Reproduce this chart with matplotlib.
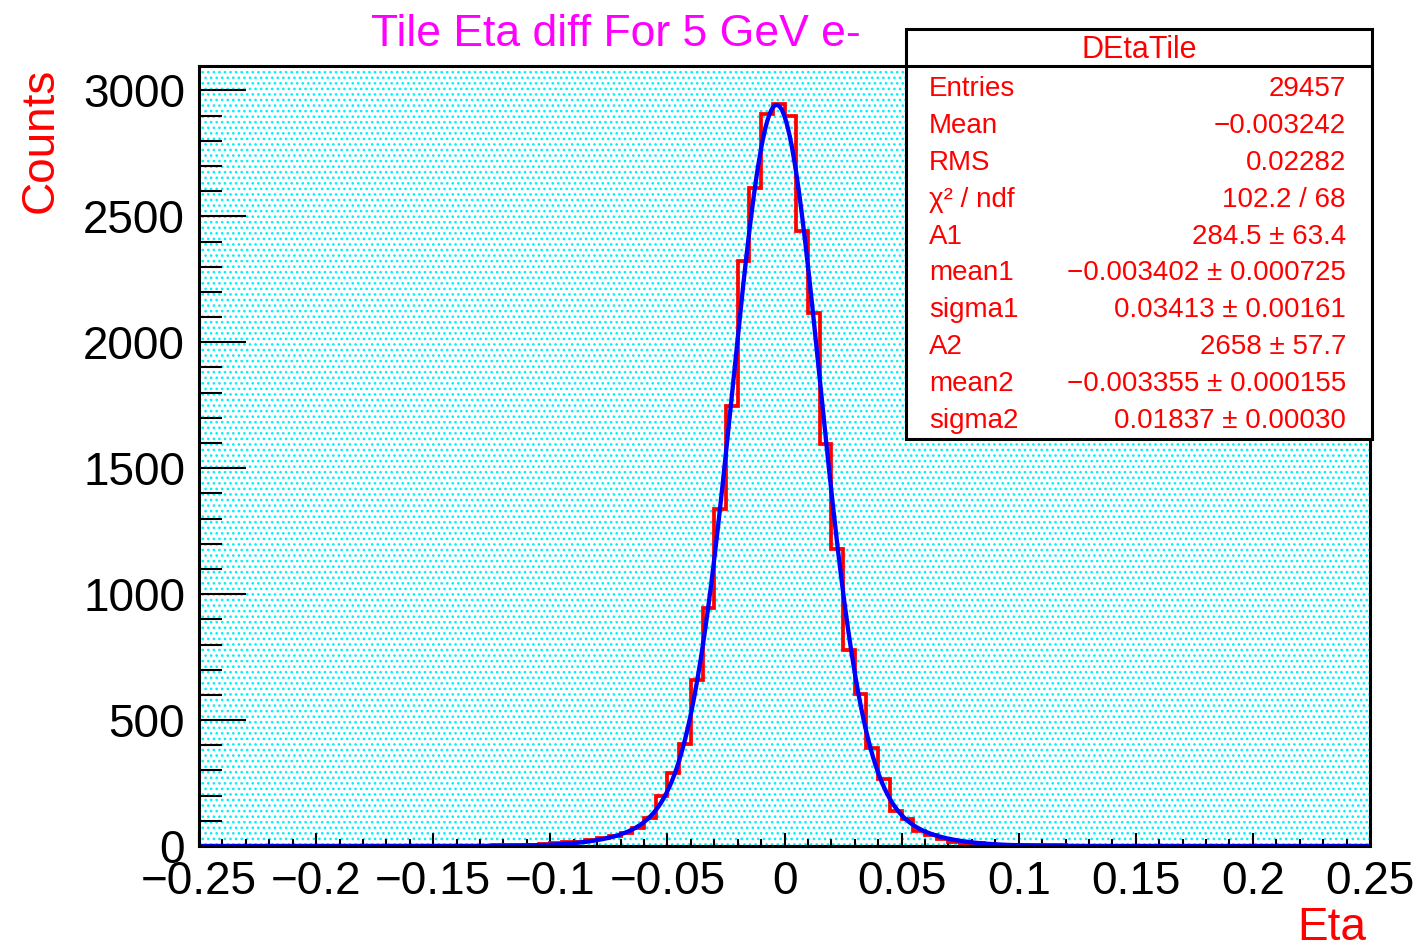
import matplotlib
matplotlib.use('Agg')
import matplotlib.pyplot as plt
from matplotlib.patches import Rectangle
from matplotlib.lines import Line2D
from matplotlib.ticker import MultipleLocator, FuncFormatter
import numpy as np

plt.rcParams['font.family'] = ['Liberation Sans', 'DejaVu Sans']
plt.rcParams['hatch.linewidth'] = 1.1

W, H = 1418, 949

# DEtaTile histogram: 100 bins of 0.005 from -0.25 to 0.25
bin_lo, bin_hi, n_bins = -0.25, 0.25, 100
counts = [
    0, 0, 0, 0, 0, 0, 0, 0, 0, 0,
    0, 0, 0, 0, 0, 0, 0, 0, 0, 0,
    0, 1, 0, 1, 1, 2, 2, 3, 5, 8,
    12, 14, 15, 22, 30, 40, 50, 70, 110, 198,
    290, 405, 659, 944, 1337, 1746, 2321, 2612, 2906, 2946,
    2900, 2440, 2115, 1595, 1178, 778, 603, 389, 266, 139,
    107, 58, 42, 28, 14, 6, 10, 8, 5, 4,
    3, 3, 2, 2, 1, 1, 0, 1, 0, 0,
    1, 0, 0, 0, 0, 0, 0, 0, 0, 0,
    0, 0, 0, 0, 0, 0, 0, 0, 0, 0,
]

# double gaussian fit, parameters as printed in the stats box
fit_amp = [284.5, 2658.0]
fit_mean = [-0.003402, -0.003355]
fit_sigma = [0.03413, 0.01837]

stat_title = 'DEtaTile'
stat_names = ['Entries', 'Mean', 'RMS', 'χ² / ndf', 'A1', 'mean1', 'sigma1',
              'A2', 'mean2', 'sigma2']
stat_values = ['29457', '−0.003242', '0.02282', '102.2 / 68', '284.5 ± 63.4',
               '−0.003402 ± 0.000725', '0.03413 ± 0.00161', '2658 ± 57.7',
               '−0.003355 ± 0.000155', '0.01837 ± 0.00030']


def fx(px):
    return px / W


def fy(py):
    return 1 - py / H


fig = plt.figure(figsize=(W / 100, H / 100), dpi=100)
ax = fig.add_axes([fx(199), fy(846), (1370 - 199) / W, (846 - 66) / H])
ax.set_xlim(bin_lo, bin_hi)
ax.set_ylim(0, 3097)

# dotted cyan fill of the frame
ax.add_patch(Rectangle((0, 0), 1, 1, transform=ax.transAxes, facecolor='white',
                       edgecolor='#00f0ff', hatch='...', lw=0, zorder=0))

edges = np.linspace(bin_lo, bin_hi, n_bins + 1)
ax.stairs(counts, edges, color='red', lw=2.7, baseline=0, zorder=2)

xf = np.linspace(bin_lo, bin_hi, 1000)
yf = np.zeros_like(xf)
for a, m, s in zip(fit_amp, fit_mean, fit_sigma):
    yf += a * np.exp(-0.5 * ((xf - m) / s) ** 2)
ax.plot(xf, yf, color='blue', lw=3.1, zorder=3)

for sp in ax.spines.values():
    sp.set_linewidth(2.2)
    sp.set_zorder(4)

ax.xaxis.set_major_locator(MultipleLocator(0.05))
ax.xaxis.set_minor_locator(MultipleLocator(0.01))
ax.yaxis.set_major_locator(MultipleLocator(500))
ax.yaxis.set_minor_locator(MultipleLocator(100))
fmt = FuncFormatter(lambda v, p: ('%g' % round(v, 4)).replace('-', '−'))
ax.xaxis.set_major_formatter(fmt)
ax.yaxis.set_major_formatter(fmt)
ax.tick_params(axis='y', which='major', direction='in', length=34, width=1.5,
               labelsize=33, pad=10)
ax.tick_params(axis='y', which='minor', direction='in', length=16.5, width=1.5)
ax.tick_params(axis='x', which='major', direction='in', length=9.5, width=1.5,
               labelsize=33, pad=10)
ax.tick_params(axis='x', which='minor', direction='in', length=5, width=1.5)

fig.text(fx(616), fy(46), 'Tile Eta diff For 5 GeV e-', color='magenta',
         fontsize=32, ha='center', va='baseline')
fig.text(fx(53), fy(68), 'Counts', color='red', fontsize=33, rotation=90,
         rotation_mode='anchor', ha='right', va='baseline')
fig.text(fx(1366), fy(940), 'Eta', color='red', fontsize=33, ha='right',
         va='baseline')

# stats box
fig.add_artist(Rectangle((fx(906), fy(439)), (1372 - 906) / W, (439 - 29) / H,
                         transform=fig.transFigure, facecolor='white',
                         edgecolor='black', lw=2.2, zorder=5))
fig.add_artist(Line2D([fx(906), fx(1372)], [fy(66), fy(66)], color='black',
                      lw=2.2, zorder=6))
fig.text(fx(1139), fy(58), stat_title, color='red', fontsize=22, ha='center',
         va='baseline', zorder=7)
for i, (name, val) in enumerate(zip(stat_names, stat_values)):
    yb = fy(96 + 36.9 * i)
    fig.text(fx(929), yb, name, color='red', fontsize=20, ha='left',
             va='baseline', zorder=7)
    fig.text(fx(1346), yb, val, color='red', fontsize=20, ha='right',
             va='baseline', zorder=7)

fig.savefig('out.png', dpi=100)
